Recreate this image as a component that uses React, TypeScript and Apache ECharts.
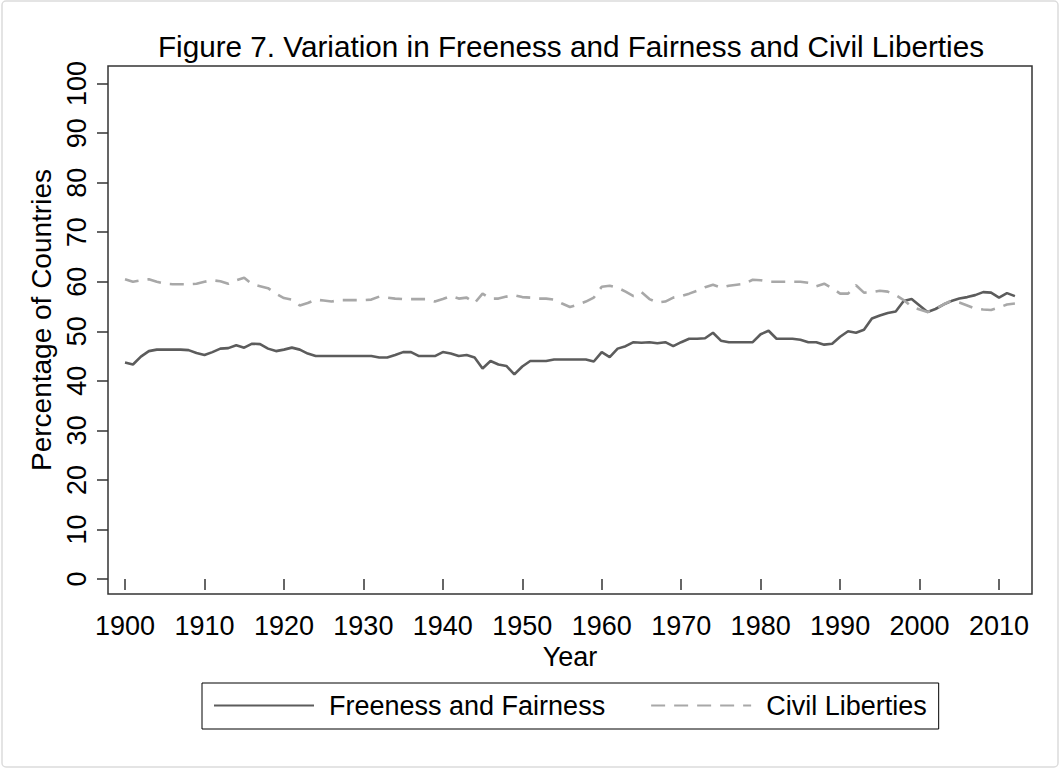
import React, { useEffect, useRef } from "react";
import * as echarts from "echarts";

const years = [
  1900, 1901, 1902, 1903, 1904, 1905, 1906, 1907, 1908, 1909,
  1910, 1911, 1912, 1913, 1914, 1915, 1916, 1917, 1918, 1919,
  1920, 1921, 1922, 1923, 1924, 1925, 1926, 1927, 1928, 1929,
  1930, 1931, 1932, 1933, 1934, 1935, 1936, 1937, 1938, 1939,
  1940, 1941, 1942, 1943, 1944, 1945, 1946, 1947, 1948, 1949,
  1950, 1951, 1952, 1953, 1954, 1955, 1956, 1957, 1958, 1959,
  1960, 1961, 1962, 1963, 1964, 1965, 1966, 1967, 1968, 1969,
  1970, 1971, 1972, 1973, 1974, 1975, 1976, 1977, 1978, 1979,
  1980, 1981, 1982, 1983, 1984, 1985, 1986, 1987, 1988, 1989,
  1990, 1991, 1992, 1993, 1994, 1995, 1996, 1997, 1998, 1999,
  2000, 2001, 2002, 2003, 2004, 2005, 2006, 2007, 2008, 2009,
  2010, 2011, 2012,
];

const freeness = [
  43.7, 43.3, 44.9, 46.0, 46.3, 46.3, 46.3, 46.3, 46.2, 45.6,
  45.2, 45.8, 46.5, 46.6, 47.2, 46.7, 47.5, 47.4, 46.5, 46.0,
  46.3, 46.7, 46.3, 45.5, 45.0, 45.0, 45.0, 45.0, 45.0, 45.0,
  45.0, 45.0, 44.7, 44.7, 45.2, 45.8, 45.8, 45.0, 45.0, 45.0,
  45.8, 45.5, 45.0, 45.2, 44.7, 42.5, 44.0, 43.3, 43.0, 41.3,
  42.9, 44.0, 44.0, 44.0, 44.3, 44.3, 44.3, 44.3, 44.3, 43.9,
  45.8, 44.8, 46.5, 47.0, 47.8, 47.7, 47.8, 47.6, 47.8, 47.0,
  47.8, 48.5, 48.5, 48.6, 49.7, 48.1, 47.8, 47.8, 47.8, 47.8,
  49.4, 50.1, 48.5, 48.5, 48.5, 48.3, 47.8, 47.8, 47.3, 47.5,
  48.9, 50.0, 49.7, 50.3, 52.6, 53.2, 53.7, 54.0, 56.1, 56.5,
  55.2, 53.9, 54.5, 55.4, 56.1, 56.6, 56.9, 57.3, 57.9, 57.8,
  56.8, 57.7, 57.1,
];

const liberties = [
  60.5, 60.0, 60.3, 60.5, 60.0, 59.6, 59.5, 59.5, 59.5, 59.6,
  60.0, 60.3, 60.1, 59.6, 60.3, 60.8, 59.5, 59.1, 58.7, 57.6,
  56.7, 56.4, 55.2, 55.7, 56.4, 56.2, 56.0, 56.3, 56.3, 56.3,
  56.3, 56.4, 57.0, 56.8, 56.6, 56.5, 56.5, 56.5, 56.5, 56.0,
  56.5, 57.1, 56.6, 56.8, 55.7, 57.6, 56.6, 56.6, 57.0, 57.3,
  56.9, 56.8, 56.6, 56.6, 56.4, 55.6, 54.9, 55.4, 56.0, 56.8,
  59.0, 59.2, 58.8, 58.0, 57.1, 57.9, 56.5, 55.8, 56.0, 56.8,
  57.1, 57.6, 58.2, 58.9, 59.4, 58.8, 59.2, 59.4, 59.6, 60.4,
  60.3, 60.0, 60.0, 60.0, 60.0, 60.0, 59.8, 59.1, 59.6, 58.7,
  57.6, 57.6, 59.3, 57.8, 57.9, 58.2, 58.0, 57.3, 56.3, 55.0,
  54.4, 53.9, 54.5, 55.4, 56.2, 55.8, 55.2, 54.6, 54.4, 54.3,
  54.8, 55.4, 55.6,
];

const xTicks = [1900, 1910, 1920, 1930, 1940, 1950, 1960, 1970, 1980, 1990, 2000, 2010];
const yTicks = [0, 10, 20, 30, 40, 50, 60, 70, 80, 90, 100];

const titleText = "Figure 7. Variation in Freeness and Fairness and Civil Liberties";
const xName = "Year";
const yName = "Percentage of Countries";
const seriesNames = ["Freeness and Fairness", "Civil Liberties"];

export default function App() {
  const ref = useRef<HTMLDivElement>(null);
  useEffect(() => {
    document.body.style.margin = "0";
    const chart = echarts.init(ref.current!, null, { renderer: "svg" });
    const font = "'Liberation Sans', Arial, sans-serif";
    const axisColor = "#333333";
    chart.setOption({
      animation: false,
      backgroundColor: "#ffffff",
      textStyle: { fontFamily: font, color: "#000" },
      title: {
        text: titleText,
        left: 566,
        top: 26,
        textAlign: "center",
        textStyle: { fontFamily: font, fontSize: 29.7, fontWeight: "normal", color: "#000" },
      },
      graphic: [
        {
          type: "rect",
          shape: { x: 2, y: 1, width: 1056, height: 766, r: 4 },
          style: { fill: "none", stroke: "#dcdcdc", lineWidth: 1.5 },
          silent: true,
          z: -10,
        },
      ],
      grid: {
        left: 108,
        right: 28,
        top: 66,
        bottom: 175,
        show: true,
        borderColor: axisColor,
        borderWidth: 1.5,
        containLabel: false,
      },
      legend: {
        left: 202,
        top: 683,
        orient: "horizontal",
        itemWidth: 100,
        itemHeight: 20,
        itemGap: 45,
        padding: [9, 12, 10, 11],
        borderColor: "#000",
        borderWidth: 1,
        data: seriesNames,
        itemStyle: { opacity: 0, borderWidth: 0 },
        textStyle: { fontFamily: font, fontSize: 27, color: "#000", padding: [0, 0, 0, 10] },
      },
      xAxis: {
        type: "value",
        min: 1897.86,
        max: 2014.15,
        name: xName,
        nameLocation: "middle",
        nameGap: 36,
        nameTextStyle: { fontFamily: font, fontSize: 27, color: "#000" },
        axisLine: { show: false },
        splitLine: { show: false },
        axisTick: { show: true, length: 11, lineStyle: { color: axisColor, width: 1.5 }, customValues: xTicks },
        axisLabel: {
          fontFamily: font,
          fontSize: 27,
          color: "#000",
          margin: 18,
          customValues: xTicks,
          formatter: (v: number) => String(v),
        },
      },
      yAxis: {
        type: "value",
        min: -3.03,
        max: 103.55,
        name: yName,
        nameLocation: "middle",
        nameGap: 40,
        nameTextStyle: { fontFamily: font, fontSize: 28, color: "#000", padding: [0, 0, 0, 20] },
        axisLine: { show: false },
        splitLine: { show: false },
        axisTick: { show: true, length: 11, lineStyle: { color: axisColor, width: 1.5 }, customValues: yTicks },
        axisLabel: {
          fontFamily: font,
          fontSize: 27,
          color: "#000",
          margin: 18,
          rotate: 90,
          customValues: yTicks,
          formatter: (v: number) => String(v),
        },
      },
      series: [
        {
          name: seriesNames[0],
          type: "line",
          data: years.map((y, i) => [y, freeness[i]]),
          showSymbol: false,
          symbol: "none",
          lineStyle: { color: "#5c5c5c", width: 2.6, type: "solid" },
          itemStyle: { color: "#5c5c5c" },
        },
        {
          name: seriesNames[1],
          type: "line",
          data: years.map((y, i) => [y, liberties[i]]),
          showSymbol: false,
          symbol: "none",
          lineStyle: { color: "#a8a8a8", width: 2.6, type: [14, 9] },
          itemStyle: { color: "#a8a8a8" },
        },
      ],
    });
    return () => chart.dispose();
  }, []);
  return <div ref={ref} style={{ position: "absolute", left: 0, top: 0, width: 1060, height: 769 }} />;
}
